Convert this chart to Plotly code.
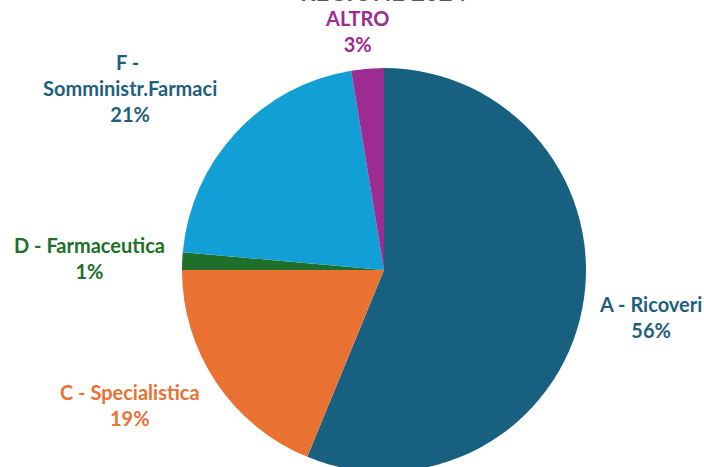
import plotly.graph_objects as go

# slice data, clockwise from 12 o'clock
categories = ["A - Ricoveri", "C - Specialistica", "D - Farmaceutica",
              "F - <br>Somministr.Farmaci", "ALTRO"]
values = [56.2, 18.8, 1.4, 21.0, 2.6]
colors = ["#17607f", "#e97132", "#1d6f2a", "#129fd6", "#9c2b92"]
label_colors = ["#1f5f7e", "#e97132", "#1d6f2a", "#1f5f7e", "#9c2b92"]
title = "REGIONE 2024"

W, H = 704, 480

fig = go.Figure()
fig.add_trace(go.Pie(
    labels=categories,
    values=values,
    sort=False,
    direction="clockwise",
    rotation=0,
    marker=dict(colors=colors, line=dict(width=0)),
    textinfo="none",
    hoverinfo="label+percent",
    showlegend=False,
    domain=dict(x=[(384 - 202) / W, (384 + 202) / W],
                y=[(H - 270 - 202) / H, (H - 270 + 202) / H]),
))

# label positions in pixels (centre of the text block)
label_pos = [(650, 317), (130, 405), (89, 258), (130, 88), (357, 31)]
total = sum(values)
for name, v, c, (px, py) in zip(categories, values, label_colors, label_pos):
    fig.add_annotation(
        x=px / W, y=1 - py / H, xref="paper", yref="paper",
        text="<b>%s<br>%d%%</b>" % (name, round(v / total * 100)),
        showarrow=False, xanchor="center", yanchor="middle",
        font=dict(family="Lato", size=20, color=c),
    )

# title, mostly cut off by the top edge (as in the original)
fig.add_annotation(
    x=383 / W, y=1, xref="paper", yref="paper",
    text="<b>%s</b>" % title, showarrow=False,
    xanchor="center", yanchor="bottom", yshift=-8,
    font=dict(family="Lato", size=24, color="#595959"),
)

fig.update_layout(
    width=W, height=H,
    margin=dict(l=0, r=0, t=0, b=0),
    paper_bgcolor="white",
    plot_bgcolor="white",
)

fig.write_html("out.html",
               config={"displayModeBar": False},
               post_script="document.body.style.margin='0';"
                           "document.body.style.overflow='hidden';")
